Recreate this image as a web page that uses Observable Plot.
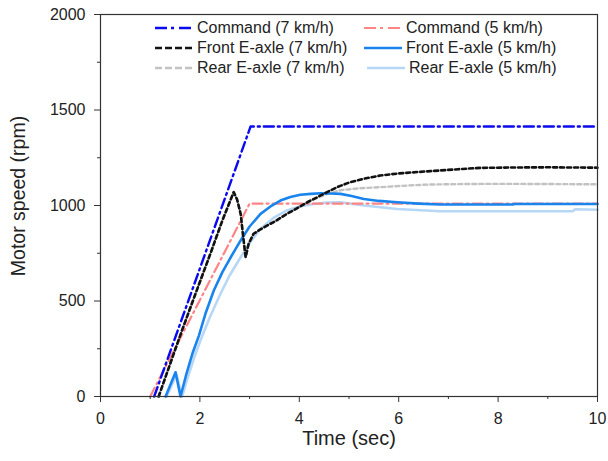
<!DOCTYPE html>
<html><head><meta charset="utf-8">
<script src="https://cdn.jsdelivr.net/npm/d3@7"></script>
<script src="https://cdn.jsdelivr.net/npm/@observablehq/plot@0.6"></script>
<style>
body{margin:0;background:#fff;}
#wrap{position:relative;width:608px;height:461px;font-family:"Liberation Sans",Arial,sans-serif;}
.li{position:absolute;display:flex;align-items:center;font-size:16px;color:#222;white-space:nowrap;height:20px;line-height:20px;}
.li svg{margin-right:4px;}
#ylab{position:absolute;left:18px;top:196px;transform:translate(-50%,-50%) rotate(-90deg);font-size:19.5px;color:#222;white-space:nowrap;line-height:20px;}
</style></head><body><div id="wrap"></div>
<script>
// ticks
const xTicks = [0, 2, 4, 6, 8, 10];
const xMinor = [1, 3, 5, 7, 9];
const yTicks = [0, 500, 1000, 1500, 2000];
const yMinor = [250, 750, 1250, 1750];

// texts
const xLabel = "Time (sec)";
const yLabel = "Motor speed (rpm)";
const labels = ["Command (7 km/h)", "Command (5 km/h)", "Front E-axle (7 km/h)", "Front E-axle (5 km/h)", "Rear E-axle (7 km/h)", "Rear E-axle (5 km/h)"];

// Command 7 km/h
const cmd7T = [1.08, 3.02, 10];
const cmd7V = [0, 1414, 1414];
// Command 5 km/h
const cmd5T = [1.0, 3.0, 10];
const cmd5V = [0, 1010, 1010];
// Front E-axle 7 km/h
const front7T = [1.17, 1.4, 1.64, 1.9, 2.2, 2.45, 2.68, 2.75, 2.82, 2.88, 2.92, 2.98, 3.08, 3.2, 3.35, 3.5, 3.75, 3.95, 4.16, 4.36, 4.56, 4.76, 5.0, 5.3, 5.63, 6.0, 6.64, 7.2, 7.65, 8.3, 9.0, 10];
const front7V = [0, 170, 346, 530, 740, 920, 1070, 1030, 956, 817, 729, 799, 852, 872, 895, 915, 956, 985, 1017, 1043, 1070, 1096, 1120, 1140, 1157, 1168, 1180, 1190, 1197, 1199, 1200, 1198];
// Rear E-axle 7 km/h
const rear7T = [1.17, 1.4, 1.64, 1.9, 2.2, 2.45, 2.68, 2.75, 2.82, 2.88, 2.92, 2.98, 3.08, 3.2, 3.35, 3.5, 3.75, 3.95, 4.16, 4.36, 4.56, 4.83, 5.2, 5.63, 6.2, 6.64, 7.2, 7.65, 8.5, 10];
const rear7V = [0, 170, 346, 530, 740, 920, 1070, 1030, 956, 817, 729, 799, 852, 872, 895, 915, 956, 985, 1017, 1040, 1060, 1080, 1090, 1096, 1105, 1110, 1112, 1113, 1113, 1111];
// Front E-axle 5 km/h
const front5T = [1.31, 1.51, 1.61, 1.72, 1.85, 1.98, 2.12, 2.28, 2.45, 2.62, 2.82, 3.0, 3.22, 3.42, 3.62, 3.82, 4.02, 4.23, 4.43, 4.63, 4.83, 5.05, 5.3, 5.6, 5.97, 6.4, 6.84, 8.3, 8.32, 10];
const front5V = [0, 127, 0, 110, 225, 319, 440, 555, 650, 729, 817, 890, 956, 995, 1026, 1045, 1056, 1061, 1064, 1063, 1061, 1050, 1034, 1024, 1017, 1010, 1005, 1005, 1008, 1008];
// Rear E-axle 5 km/h
const rear5T = [1.33, 1.53, 1.64, 1.75, 1.88, 2.02, 2.2, 2.4, 2.6, 2.82, 3.02, 3.22, 3.48, 3.75, 4.0, 4.29, 4.56, 4.83, 5.3, 5.97, 6.84, 9.5, 9.55, 10];
const rear5V = [0, 115, 0, 95, 200, 300, 415, 530, 635, 729, 810, 878, 935, 974, 995, 1008, 1015, 1017, 1000, 982, 970, 970, 980, 978];

const toRows = (T, V) => T.map((t, i) => ({t, v: V[i]}));

const styles = {
  cmd7:   {color: "#0a0af0", dash: "10,4,2,4", w: 2.4, leg: "12,4,3,5"},
  cmd5:   {color: "#ff8484", dash: "10,4,2,4", w: 2.2, leg: "12,4,3,5"},
  front7: {color: "#111111", dash: "4,3", w: 2.6, leg: "7,3"},
  front5: {color: "#1a84ee", dash: null, w: 2.6, leg: null},
  rear7:  {color: "#c2c2c2", dash: "4,3", w: 2.4, leg: "7,3"},
  rear5:  {color: "#b7d7f7", dash: null, w: 2.6, leg: null}
};

const lineMark = (T, V, s) => Plot.line(toRows(T, V), {x: "t", y: "v", stroke: s.color, strokeWidth: s.w, strokeDasharray: s.dash || undefined, strokeLinejoin: "round"});

const chart = Plot.plot({
  width: 608, height: 461,
  marginLeft: 100, marginRight: 11, marginTop: 14, marginBottom: 65,
  x: {domain: [0, 10]},
  y: {domain: [0, 2000]},
  style: {fontFamily: "'Liberation Sans', Arial, sans-serif", fontSize: "16px", color: "#222", background: "white"},
  marks: [
    lineMark(rear5T, rear5V, styles.rear5),
    lineMark(rear7T, rear7V, styles.rear7),
    lineMark(cmd5T, cmd5V, styles.cmd5),
    lineMark(front5T, front5V, styles.front5),
    lineMark(front7T, front7V, styles.front7),
    lineMark(cmd7T, cmd7V, styles.cmd7),
    Plot.frame({stroke: "#333", strokeWidth: 1.2}),
    Plot.axisX(xTicks, {tickSize: 6, tickPadding: 10, label: null, tickFormat: d => String(d), fontSize: 16, stroke: "#333"}),
    Plot.axisX(xMinor, {tickSize: 3, text: null, label: null, stroke: "#333"}),
    Plot.axisY(yTicks, {tickSize: 6, tickPadding: 9, label: null, tickFormat: d => String(d), fontSize: 16, stroke: "#333"}),
    Plot.axisY(yMinor, {tickSize: 3, text: null, label: null, stroke: "#333"}),
    Plot.text([xLabel], {frameAnchor: "bottom", dy: 42, fontSize: 20, lineAnchor: "middle", fill: "#222"})
  ]
});

const wrap = document.getElementById("wrap");
wrap.appendChild(chart);

const yl = document.createElement("div");
yl.id = "ylab";
yl.textContent = yLabel;
wrap.appendChild(yl);

// legend (two columns, three rows)
const legOrder = [["cmd7", 0], ["cmd5", 1], ["front7", 2], ["front5", 3], ["rear7", 4], ["rear5", 5]];
const colLeft = [155, 364];
const rowTop = [18, 38, 58];
legOrder.forEach(([key, idx], k) => {
  const s = styles[key];
  const col = k % 2, row = Math.floor(k / 2);
  const div = document.createElement("div");
  div.className = "li";
  div.style.left = (colLeft[col] + (row === 2 && col === 1 ? 3 : 0)) + "px";
  div.style.top = rowTop[row] + "px";
  const ns = "http://www.w3.org/2000/svg";
  const svg = document.createElementNS(ns, "svg");
  svg.setAttribute("width", 38); svg.setAttribute("height", 6);
  const ln = document.createElementNS(ns, "line");
  ln.setAttribute("x1", 0); ln.setAttribute("x2", 38); ln.setAttribute("y1", 3); ln.setAttribute("y2", 3);
  ln.setAttribute("stroke", s.color); ln.setAttribute("stroke-width", s.w);
  if (s.leg) ln.setAttribute("stroke-dasharray", s.leg);
  svg.appendChild(ln);
  div.appendChild(svg);
  const sp = document.createElement("span");
  sp.textContent = labels[idx];
  div.appendChild(sp);
  wrap.appendChild(div);
});
</script></body></html>
